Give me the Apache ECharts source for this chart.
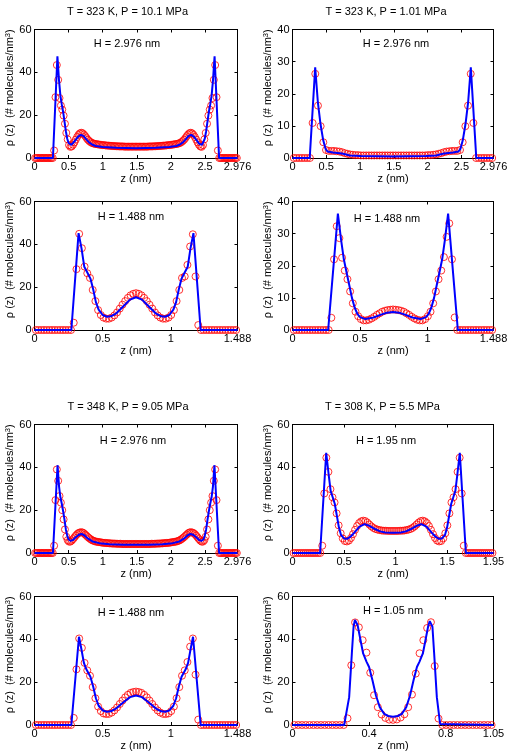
<!DOCTYPE html>
<html>
<head>
<meta charset="utf-8">
<script src="https://cdn.jsdelivr.net/npm/echarts@6/dist/echarts.min.js"></script>
<style>
html,body{margin:0;padding:0;background:#fff;}
#chart{width:513px;height:756px;}
</style>
</head>
<body>
<div id="chart"></div>
<script>
// ---------- DATA ----------
// Panel titles / slit widths
const panelTitles = ['T = 323 K, P = 10.1 MPa', 'T = 323 K, P = 1.01 MPa', 'T = 348 K, P = 9.05 MPa', 'T = 308 K, P = 5.5 MPa'];
const slitWidths = [2.976, 2.976, 1.488, 1.488, 2.976, 1.95, 1.488, 1.05];
const xTickInterval = [0.5, 0.5, 0.5, 0.5, 0.5, 0.5, 0.5, 0.4];
const yMax = [60, 40, 60, 40, 60, 60, 60, 60];
const yTickInterval = [20, 10, 20, 10, 20, 20, 20, 20];
// number of histogram bins across the pore (circles are at bin centres)
const binCounts = [150, 75, 75, 75, 150, 98, 75, 53];

// MD density profiles (red circles), one value per bin
const md_323K_10MPa_H2976 = [
 0,0,0,0,0,0,0,0,0,0,0,0,0,0,
 3.5,28.4,43.4,36.5,28,24.5,22.6,19.8,16,11.7,
 8.7,6,5.2,5.4,6.2,7.3,8.6,9.8,10.8,11.5,
 11.8,11.6,11,10.2,9.3,8.5,7.9,7.4,7.0,6.8,
 6.6,6.5,6.4,6.3,6.2,6.1,6.0,6.0,5.9,5.8,
 5.8,5.7,5.7,5.6,5.6,5.5,5.5,5.5,5.4,5.4,
 5.4,5.4,5.3,5.3,5.3,5.3,5.3,5.3,5.3,5.3,5.3,
 5.3,5.3,5.3,5.3,5.3,5.3,5.3,5.3,5.3,5.4,
 5.4,5.4,5.4,5.5,5.5,5.5,5.6,5.6,5.7,5.7,
 5.8,5.8,5.9,6.0,6.0,6.1,6.2,6.3,6.4,6.5,
 6.6,6.8,7.0,7.4,7.9,8.5,9.3,10.2,11,11.6,
 11.8,11.5,10.8,9.8,8.6,7.3,6.2,5.4,5.2,6,
 8.7,11.7,16,19.8,22.6,24.5,28,36.5,43.4,28.4,
 3.5,
 0,0,0,0,0,0,0,0,0,0,0,0,0,0
];
const md_323K_1MPa_H2976 = [
 0,0,0,0,0,0,0,
 10.9,26.2,16.3,
 9.9,4.9,2.5,2.2,2.2,2.2,2.1,2.0,1.8,1.5,
 1.3,1.1,1.0,0.9,0.9,0.8,0.8,0.8,0.8,0.8,
 0.8,0.8,0.8,0.8,0.8,0.8,0.8,0.8,
 0.8,0.8,0.8,0.8,0.8,0.8,0.8,0.8,0.8,0.8,0.8,0.8,
 0.9,0.9,1.0,1.1,1.3,1.5,1.8,2.0,2.1,2.2,
 2.2,2.2,2.5,4.9,9.9,16.3,26.2,10.9,
 0,0,0,0,0,0,0
];
const md_323K_10MPa_H1488 = [
 0,0,0,0,0,0,0,0,0,0,0,0,0,0,
 3.4,28.4,44.9,38.2,29.6,26.5,24.3,18.7,13.5,9.3,
 7,5.8,5.3,5.3,5.8,6.8,8.2,10,11.8,13.5,
 15,16.2,16.9,17.2,
 16.9,16.2,15,13.5,11.8,10,8.2,6.8,5.8,5.3,
 5.3,5.8,7,9.3,13.5,18.7,24.3,25,30.4,39,44.7,25,2.3,
 0,0,0,0,0,0,0,0,0,0,0,0,0,0
];
const md_323K_1MPa_H1488 = [
 0,0,0,0,0,0,0,0,0,0,0,0,0,0,
 3.8,22,32.3,28.6,22.5,18.5,15.8,12,8.3,5.7,
 4.3,3.4,3.0,3.0,3.2,3.6,4.1,4.7,5.2,5.7,
 6.0,6.2,6.3,6.4,
 6.3,6.2,6.0,5.7,5.2,4.7,4.1,3.6,3.2,3.0,
 3.0,3.4,4.3,5.7,8.3,12,15.8,18.5,22.7,29,33.2,22,3.9,
 0,0,0,0,0,0,0,0,0,0,0,0,0,0
];
const md_348K_9MPa_H2976 = [
 0,0,0,0,0,0,0,0,0,0,0,0,0,0,
 3.4,24.7,39,33.7,26.6,23.5,20,15.7,11,7.6,
 6,5.3,5.3,5.8,6.5,7.3,8.1,8.8,9.3,9.6,
 9.7,9.6,9.2,8.6,8.0,7.4,6.9,6.4,6.0,5.7,
 5.5,5.3,5.2,5.1,5.0,4.9,4.8,4.7,4.7,4.6,
 4.6,4.5,4.5,4.4,4.4,4.4,4.3,4.3,4.3,4.3,
 4.2,4.2,4.2,4.2,4.2,4.2,4.2,4.2,4.2,4.2,4.2,
 4.2,4.2,4.2,4.2,4.2,4.2,4.2,4.2,4.2,4.2,4.2,
 4.3,4.3,4.3,4.3,4.4,4.4,4.4,4.5,4.5,4.6,
 4.6,4.7,4.7,4.8,4.9,5.0,5.1,5.2,5.3,5.5,
 5.7,6.0,6.4,6.9,7.4,8.0,8.6,9.2,9.6,9.7,
 9.6,9.3,8.8,8.1,7.3,6.5,5.8,5.3,5.3,6,
 7.6,11,15.7,20,23.5,26.6,33.7,39,24.7,3.4,
 0,0,0,0,0,0,0,0,0,0,0,0,0,0
];
const md_308K_5MPa_H195 = [
 0,0,0,0,0,0,0,0,0,0,0,0,0,0,
 3.4,27.8,44.5,37.9,29.8,26,23.6,18.5,12.9,9.2,
 6.8,5.6,5.4,5.8,7,8.8,10.8,12.6,14,14.8,
 15.1,14.9,14.2,13.3,12.4,11.7,11.2,10.9,10.7,10.5,
 10.4,10.4,10.3,10.3,10.3,
 10.3,10.3,10.3,10.4,10.4,
 10.5,10.7,10.9,11.2,11.7,12.4,13.3,14.2,14.9,15.1,
 14.8,14,12.6,10.8,8.8,7,5.8,5.4,5.6,6.8,
 9.2,12.9,18.5,23.6,26,29.8,37.9,44.5,27.8,3.4,
 0,0,0,0,0,0,0,0,0,0,0,0,0,0
];
const md_348K_9MPa_H1488 = [
 0,0,0,0,0,0,0,0,0,0,0,0,0,0,
 3.3,26,40.4,36,29,25.5,23,17.7,12.5,8.6,
 6.5,5.4,5.1,5.2,5.8,6.8,8.2,9.8,11.4,12.9,
 14.1,15,15.4,15.6,
 15.4,15,14.1,12.9,11.4,9.8,8.2,6.8,5.8,5.2,
 5.1,5.4,6.5,8.6,12.5,17.7,23,25.5,29.4,36.6,40.4,23.5,2.5,
 0,0,0,0,0,0,0,0,0,0,0,0,0,0
];
const md_308K_5MPa_H105 = [
 0,0,0,0,0,0,0,0,0,0,0,0,0,0,
 3.1,27.9,47.9,45.6,39.6,33.8,24.4,13.9,8.3,4.9,3.3,2.5,2.4,
 2.6,3.5,5,8.3,14.2,24,33.5,39.6,45.3,48,27.5,3,
 0,0,0,0,0,0,0,0,0,0,0,0,0,0
];

// Model density profiles (blue lines), [z (nm), rho]
const model_323K_10MPa_H2976 = [[0,0],[0.27,0],[0.336,47.5],[0.36,36],[0.38,29],[0.40,25],[0.42,21.5],[0.44,17],[0.46,12.5],[0.48,9],[0.50,7],[0.52,6.2],[0.54,6.1],[0.56,6.6],[0.60,8.3],[0.64,10],[0.68,10.8],[0.72,10.2],[0.76,8.7],[0.80,7.3],[0.85,6.2],[0.90,5.6],[1.0,5.1],[1.2,4.8],[1.488,4.6],[1.776,4.8],[1.976,5.1],[2.076,5.6],[2.126,6.2],[2.176,7.3],[2.216,8.7],[2.256,10.2],[2.296,10.8],[2.336,10],[2.376,8.3],[2.416,6.6],[2.436,6.1],[2.456,6.2],[2.476,7],[2.496,9],[2.516,12.5],[2.536,17],[2.556,21.5],[2.576,25],[2.596,29],[2.616,36],[2.64,47.5],[2.706,0],[2.976,0]];
const model_323K_1MPa_H2976 = [[0,0],[0.255,0],[0.336,28.2],[0.375,17.5],[0.415,10.5],[0.455,5.5],[0.49,2.8],[0.52,2],[0.6,1.7],[0.7,1.5],[0.75,1.3],[0.85,0.8],[1.0,0.6],[1.488,0.5],[1.976,0.6],[2.126,0.8],[2.226,1.3],[2.276,1.5],[2.376,1.7],[2.456,2],[2.486,2.8],[2.521,5.5],[2.561,10.5],[2.601,17.5],[2.64,28.2],[2.721,0],[2.976,0]];
const model_323K_10MPa_H1488 = [[0,0],[0.27,0],[0.323,45.2],[0.345,38],[0.365,29.5],[0.39,26.5],[0.41,24],[0.43,19],[0.45,13],[0.47,9.5],[0.5,7],[0.53,6.2],[0.56,6.4],[0.6,7.8],[0.65,11],[0.7,14.2],[0.744,15.3],[0.788,14.2],[0.838,11],[0.888,7.8],[0.928,6.4],[0.958,6.2],[0.988,7],[1.018,9.5],[1.038,13],[1.058,19],[1.078,24],[1.098,26.5],[1.123,29.5],[1.143,38],[1.165,45.2],[1.218,0],[1.488,0]];
const model_323K_1MPa_H1488 = [[0,0],[0.264,0],[0.336,36.2],[0.36,28],[0.38,22],[0.4,18],[0.42,14],[0.44,10],[0.46,7],[0.48,5],[0.5,4],[0.54,3.4],[0.6,3.9],[0.65,4.7],[0.7,5.4],[0.744,5.6],[0.788,5.4],[0.838,4.7],[0.888,3.9],[0.948,3.4],[0.988,4],[1.008,5],[1.028,7],[1.048,10],[1.068,14],[1.088,18],[1.108,22],[1.128,28],[1.152,36.2],[1.224,0],[1.488,0]];
const model_348K_9MPa_H2976 = [[0,0],[0.27,0],[0.338,41],[0.36,31],[0.38,26],[0.40,23],[0.42,19.5],[0.44,15.5],[0.46,11],[0.48,8],[0.50,6.3],[0.53,5.7],[0.56,6],[0.60,7.2],[0.65,8.5],[0.69,8.9],[0.73,8.3],[0.78,6.8],[0.85,5.4],[0.95,4.6],[1.1,4.1],[1.3,3.9],[1.488,3.8],[1.676,3.9],[1.876,4.1],[2.026,4.6],[2.126,5.4],[2.196,6.8],[2.246,8.3],[2.286,8.9],[2.326,8.5],[2.376,7.2],[2.416,6],[2.446,5.7],[2.476,6.3],[2.496,8],[2.516,11],[2.536,15.5],[2.556,19.5],[2.576,23],[2.596,26],[2.616,31],[2.638,41],[2.706,0],[2.976,0]];
const model_308K_5MPa_H195 = [[0,0],[0.268,0],[0.327,46.8],[0.35,37],[0.37,29],[0.39,26],[0.41,23],[0.43,17.5],[0.45,12],[0.47,8.5],[0.5,6.8],[0.53,6.6],[0.56,7.5],[0.6,9.5],[0.65,12.3],[0.7,13.5],[0.75,12.6],[0.8,11.2],[0.85,10.1],[0.9,9.6],[0.975,9.5],[1.05,9.6],[1.1,10.1],[1.15,11.2],[1.2,12.6],[1.25,13.5],[1.3,12.3],[1.35,9.5],[1.39,7.5],[1.42,6.6],[1.45,6.8],[1.48,8.5],[1.5,12],[1.52,17.5],[1.54,23],[1.56,26],[1.58,29],[1.6,37],[1.623,46.8],[1.682,0],[1.95,0]];
const model_348K_9MPa_H1488 = [[0,0],[0.27,0],[0.326,41.2],[0.345,35],[0.362,29],[0.38,26],[0.41,22.5],[0.43,18],[0.45,12.5],[0.47,9],[0.5,6.8],[0.53,6.2],[0.56,6.4],[0.6,7.8],[0.65,10.5],[0.7,13],[0.744,13.8],[0.788,13],[0.838,10.5],[0.888,7.8],[0.928,6.4],[0.958,6.2],[0.988,6.8],[1.018,9],[1.038,12.5],[1.058,18],[1.078,22.5],[1.108,26],[1.126,29],[1.143,35],[1.162,41.2],[1.218,0],[1.488,0]];
const model_308K_5MPa_H105 = [[0,0],[0.27,0],[0.279,0.5],[0.296,13],[0.31,33.4],[0.319,45.9],[0.326,49],[0.333,48.5],[0.34,46.7],[0.357,38.9],[0.369,33.4],[0.387,29.5],[0.4,27.1],[0.418,20.8],[0.436,13.8],[0.456,8.3],[0.479,5.2],[0.5,4.2],[0.525,3.9],[0.55,4.2],[0.571,5.2],[0.594,8.3],[0.614,13.8],[0.632,20.8],[0.65,27.1],[0.663,29.5],[0.681,33.4],[0.693,38.9],[0.71,46.7],[0.717,48.5],[0.724,49],[0.731,45.9],[0.74,33.4],[0.754,13],[0.771,0.5],[0.78,0],[1.05,0]];

const mdSets = [md_323K_10MPa_H2976, md_323K_1MPa_H2976, md_323K_10MPa_H1488, md_323K_1MPa_H1488,
                md_348K_9MPa_H2976, md_308K_5MPa_H195, md_348K_9MPa_H1488, md_308K_5MPa_H105];
const modelSets = [model_323K_10MPa_H2976, model_323K_1MPa_H2976, model_323K_10MPa_H1488, model_323K_1MPa_H1488,
                   model_348K_9MPa_H2976, model_308K_5MPa_H195, model_348K_9MPa_H1488, model_308K_5MPa_H105];

// ---------- LAYOUT ----------
const FONT = '"Liberation Sans", Arial, Helvetica, sans-serif';
const FS = 11;
const colLeft = [34.5, 292.5];
const colWidth = [203, 201];
const rowTop = [29.5, 201.5, 424.5, 596.5];
const rowHeight = 128.5;
const hLabelPos = [[127,44],[396,44],[131,217],[387,219],[133,441],[386,441],[131,613],[393,611]];
const titlePos = [[127.5,12],[386,12],[128,407],[382.5,407]];

const grids = [], xAxes = [], yAxes = [], series = [], graphics = [];
const axisLineStyle = {color:'#000', width:1};
for (let p = 0; p < 8; p++) {
  const col = p % 2, row = Math.floor(p / 2);
  grids.push({left: colLeft[col], top: rowTop[row], width: colWidth[col], height: rowHeight});
  const H = slitWidths[p];
  const commonX = {type:'value', gridIndex:p, min:0, max:H, interval:xTickInterval[p],
    splitLine:{show:false},
    axisLine:{show:true, onZero:false, lineStyle:axisLineStyle},
    axisTick:{show:true, inside:true, length:3, lineStyle:{color:'#000', width:1}}};
  xAxes.push(Object.assign({}, commonX, {position:'bottom',
    axisLabel:{show:true, margin:3, fontSize:FS, color:'#000', fontFamily:FONT,
      showMinLabel:true, showMaxLabel:true},
    name:'z (nm)', nameLocation:'middle', nameGap:15,
    nameTextStyle:{fontSize:FS, color:'#000', fontFamily:FONT}}));
  xAxes.push(Object.assign({}, commonX, {position:'top', axisLabel:{show:false}}));
  const commonY = {type:'value', gridIndex:p, min:0, max:yMax[p], interval:yTickInterval[p],
    splitLine:{show:false},
    axisLine:{show:true, onZero:false, lineStyle:axisLineStyle},
    axisTick:{show:true, inside:true, length:3, lineStyle:{color:'#000', width:1}}};
  yAxes.push(Object.assign({}, commonY, {position:'left',
    axisLabel:{show:true, margin:3, fontSize:FS, color:'#000', fontFamily:FONT},
    name:'ρ (z)  (# molecules/nm{s|3})', nameLocation:'middle', nameGap:18,
    nameTextStyle:{fontSize:FS, color:'#000', fontFamily:FONT, padding:[0,0,0,12],
      rich:{s:{fontSize:7.5, color:'#000', fontFamily:FONT, verticalAlign:'top', padding:[0,0,4,0]}}}}));
  yAxes.push(Object.assign({}, commonY, {position:'right', axisLabel:{show:false}}));

  const bw = H / binCounts[p];
  series.push({type:'scatter', xAxisIndex:2*p, yAxisIndex:2*p,
    data: mdSets[p].map((v, i) => [(i + 0.5) * bw, v]),
    symbol:'circle', symbolSize:7, clip:false, z:2,
    itemStyle:{color:'rgba(0,0,0,0)', borderColor:'#ff0000', borderWidth:1},
    emphasis:{disabled:true}, silent:true});
  series.push({type:'line', xAxisIndex:2*p, yAxisIndex:2*p,
    data: modelSets[p], showSymbol:false, symbol:'none', z:3, clip:false,
    lineStyle:{color:'#0000ff', width:2}, silent:true});

  graphics.push({type:'text', x:hLabelPos[p][0], y:hLabelPos[p][1],
    style:{text:'H = ' + H + ' nm', font:FS + 'px ' + FONT, fill:'#000', textAlign:'center', textVerticalAlign:'middle'}});
}
for (let t = 0; t < 4; t++) {
  graphics.push({type:'text', x:titlePos[t][0], y:titlePos[t][1],
    style:{text:panelTitles[t], font:FS + 'px ' + FONT, fill:'#000', textAlign:'center', textVerticalAlign:'middle'}});
}

const chart = echarts.init(document.getElementById('chart'), null, {renderer:'canvas'});
chart.setOption({
  animation:false,
  backgroundColor:'#fff',
  textStyle:{fontFamily:FONT},
  grid: grids,
  xAxis: xAxes,
  yAxis: yAxes,
  series: series,
  graphic: graphics
});
</script>
</body>
</html>
